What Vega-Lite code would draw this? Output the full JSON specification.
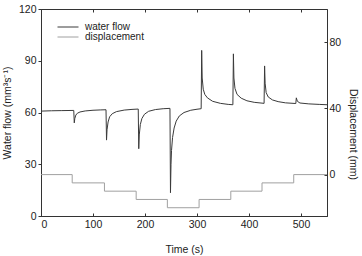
{
  "$schema": "https://vega.github.io/schema/vega-lite/v6.json",
  "width": 286,
  "height": 207,
  "autosize": {"type": "none"},
  "padding": {"left": 41, "top": 9, "right": 35, "bottom": 40},
  "background": "white",
  "config": {
    "view": {"stroke": "#333", "strokeWidth": 1},
    "font": "Liberation Sans",
    "axis": {
      "labelFont": "Liberation Sans", "labelFontSize": 10.5, "labelColor": "#222",
      "titleFont": "Liberation Sans", "titleFontSize": 10.5, "titleFontWeight": "normal", "titleColor": "#222",
      "domainColor": "#333", "tickColor": "#333", "grid": false, "tickSize": 3
    },
    "legend": {"labelFont": "Liberation Sans", "labelFontSize": 10, "labelColor": "#222"}
  },
  "datasets": {
    "flow": [
      {"t": 0, "flow": 60.8}, {"t": 20, "flow": 61}, {"t": 40, "flow": 61.1}, {"t": 63, "flow": 61.2},
      {"t": 64, "flow": 54}, {"t": 65, "flow": 56.5}, {"t": 67, "flow": 58.5}, {"t": 70, "flow": 59.6},
      {"t": 75, "flow": 60.3}, {"t": 85, "flow": 60.9}, {"t": 100, "flow": 61.3}, {"t": 115, "flow": 61.5},
      {"t": 125, "flow": 61.6}, {"t": 126, "flow": 44}, {"t": 127, "flow": 50}, {"t": 129, "flow": 54.5},
      {"t": 132, "flow": 57.5}, {"t": 137, "flow": 59.3}, {"t": 145, "flow": 60.5}, {"t": 160, "flow": 61.4},
      {"t": 175, "flow": 61.8}, {"t": 187, "flow": 62}, {"t": 188, "flow": 39}, {"t": 189, "flow": 47},
      {"t": 191, "flow": 53}, {"t": 194, "flow": 56.5}, {"t": 199, "flow": 59}, {"t": 207, "flow": 60.7},
      {"t": 220, "flow": 61.7}, {"t": 235, "flow": 62.2}, {"t": 248, "flow": 62.4}, {"t": 249, "flow": 13.5},
      {"t": 250, "flow": 30}, {"t": 251, "flow": 38}, {"t": 253, "flow": 45.5}, {"t": 256, "flow": 51},
      {"t": 260, "flow": 55}, {"t": 266, "flow": 58}, {"t": 275, "flow": 60}, {"t": 288, "flow": 61.3},
      {"t": 300, "flow": 61.9}, {"t": 308, "flow": 62.2}, {"t": 309, "flow": 96}, {"t": 310, "flow": 80},
      {"t": 312, "flow": 73.5}, {"t": 315, "flow": 70.5}, {"t": 320, "flow": 68.5}, {"t": 330, "flow": 66.5},
      {"t": 345, "flow": 65.3}, {"t": 360, "flow": 64.7}, {"t": 369, "flow": 64.5}, {"t": 370, "flow": 94},
      {"t": 371, "flow": 80}, {"t": 373, "flow": 74}, {"t": 377, "flow": 70.5}, {"t": 385, "flow": 68.3},
      {"t": 396, "flow": 66.8}, {"t": 410, "flow": 65.9}, {"t": 429, "flow": 65.3}, {"t": 430, "flow": 87},
      {"t": 431, "flow": 77}, {"t": 433, "flow": 71.5}, {"t": 437, "flow": 69}, {"t": 445, "flow": 67.3},
      {"t": 456, "flow": 66.3}, {"t": 470, "flow": 65.6}, {"t": 490, "flow": 65.2}, {"t": 491, "flow": 68.5},
      {"t": 493, "flow": 66.5}, {"t": 498, "flow": 65.5}, {"t": 515, "flow": 65}, {"t": 535, "flow": 64.7},
      {"t": 550, "flow": 64.5}
    ],
    "disp": [
      {"t": 0, "d": 0}, {"t": 60, "d": -5}, {"t": 122, "d": -10}, {"t": 183, "d": -15}, {"t": 243, "d": -20},
      {"t": 304, "d": -15}, {"t": 365, "d": -10}, {"t": 425, "d": -5}, {"t": 486, "d": 0}, {"t": 550, "d": 0}
    ]
  },
  "layer": [
    {
      "data": {"name": "disp"},
      "mark": {"type": "line", "interpolate": "step-after", "strokeWidth": 1},
      "transform": [{"calculate": "'displacement'", "as": "series"}],
      "encoding": {
        "x": {"field": "t", "type": "quantitative", "scale": {"domain": [0, 550], "nice": false},
          "axis": {"orient": "top", "values": [0, 100, 200, 300, 400, 500], "labels": false, "title": null, "tickSize": -3, "domain": false}},
        "y": {"field": "d", "type": "quantitative", "scale": {"domain": [-25, 100], "nice": false},
          "axis": {"orient": "right", "values": [0, 40, 80], "title": "Displacement (mm)", "titleAngle": 90, "titleY": 125, "tickSize": -3, "labelPadding": 5, "titlePadding": 7}},
        "color": {"field": "series", "type": "nominal",
          "scale": {"domain": ["water flow", "displacement"], "range": ["#3a3a3a", "#a0a0a0"]},
          "legend": {"orient": "none", "legendX": 16, "legendY": 13, "title": null, "symbolType": "stroke", "symbolSize": 441, "symbolStrokeWidth": 1, "clipHeight": 10, "rowPadding": 0, "labelOffset": 6}}
      }
    },
    {
      "data": {"name": "flow"},
      "mark": {"type": "line", "strokeWidth": 1},
      "transform": [{"calculate": "'water flow'", "as": "series"}],
      "encoding": {
        "x": {"field": "t", "type": "quantitative", "scale": {"domain": [0, 550], "nice": false},
          "axis": {"orient": "bottom", "values": [0, 100, 200, 300, 400, 500], "title": "Time (s)", "tickSize": -3, "labelPadding": 6, "titlePadding": 15}},
        "y": {"field": "flow", "type": "quantitative", "scale": {"domain": [0, 120], "nice": false},
          "axis": {"orient": "left", "values": [0, 30, 60, 90, 120], "title": "Water flow (mm³s⁻¹)", "labelPadding": 2, "titlePadding": 6}},
        "color": {"field": "series", "type": "nominal"}
      }
    }
  ],
  "resolve": {"scale": {"y": "independent", "x": "independent"}}
}
